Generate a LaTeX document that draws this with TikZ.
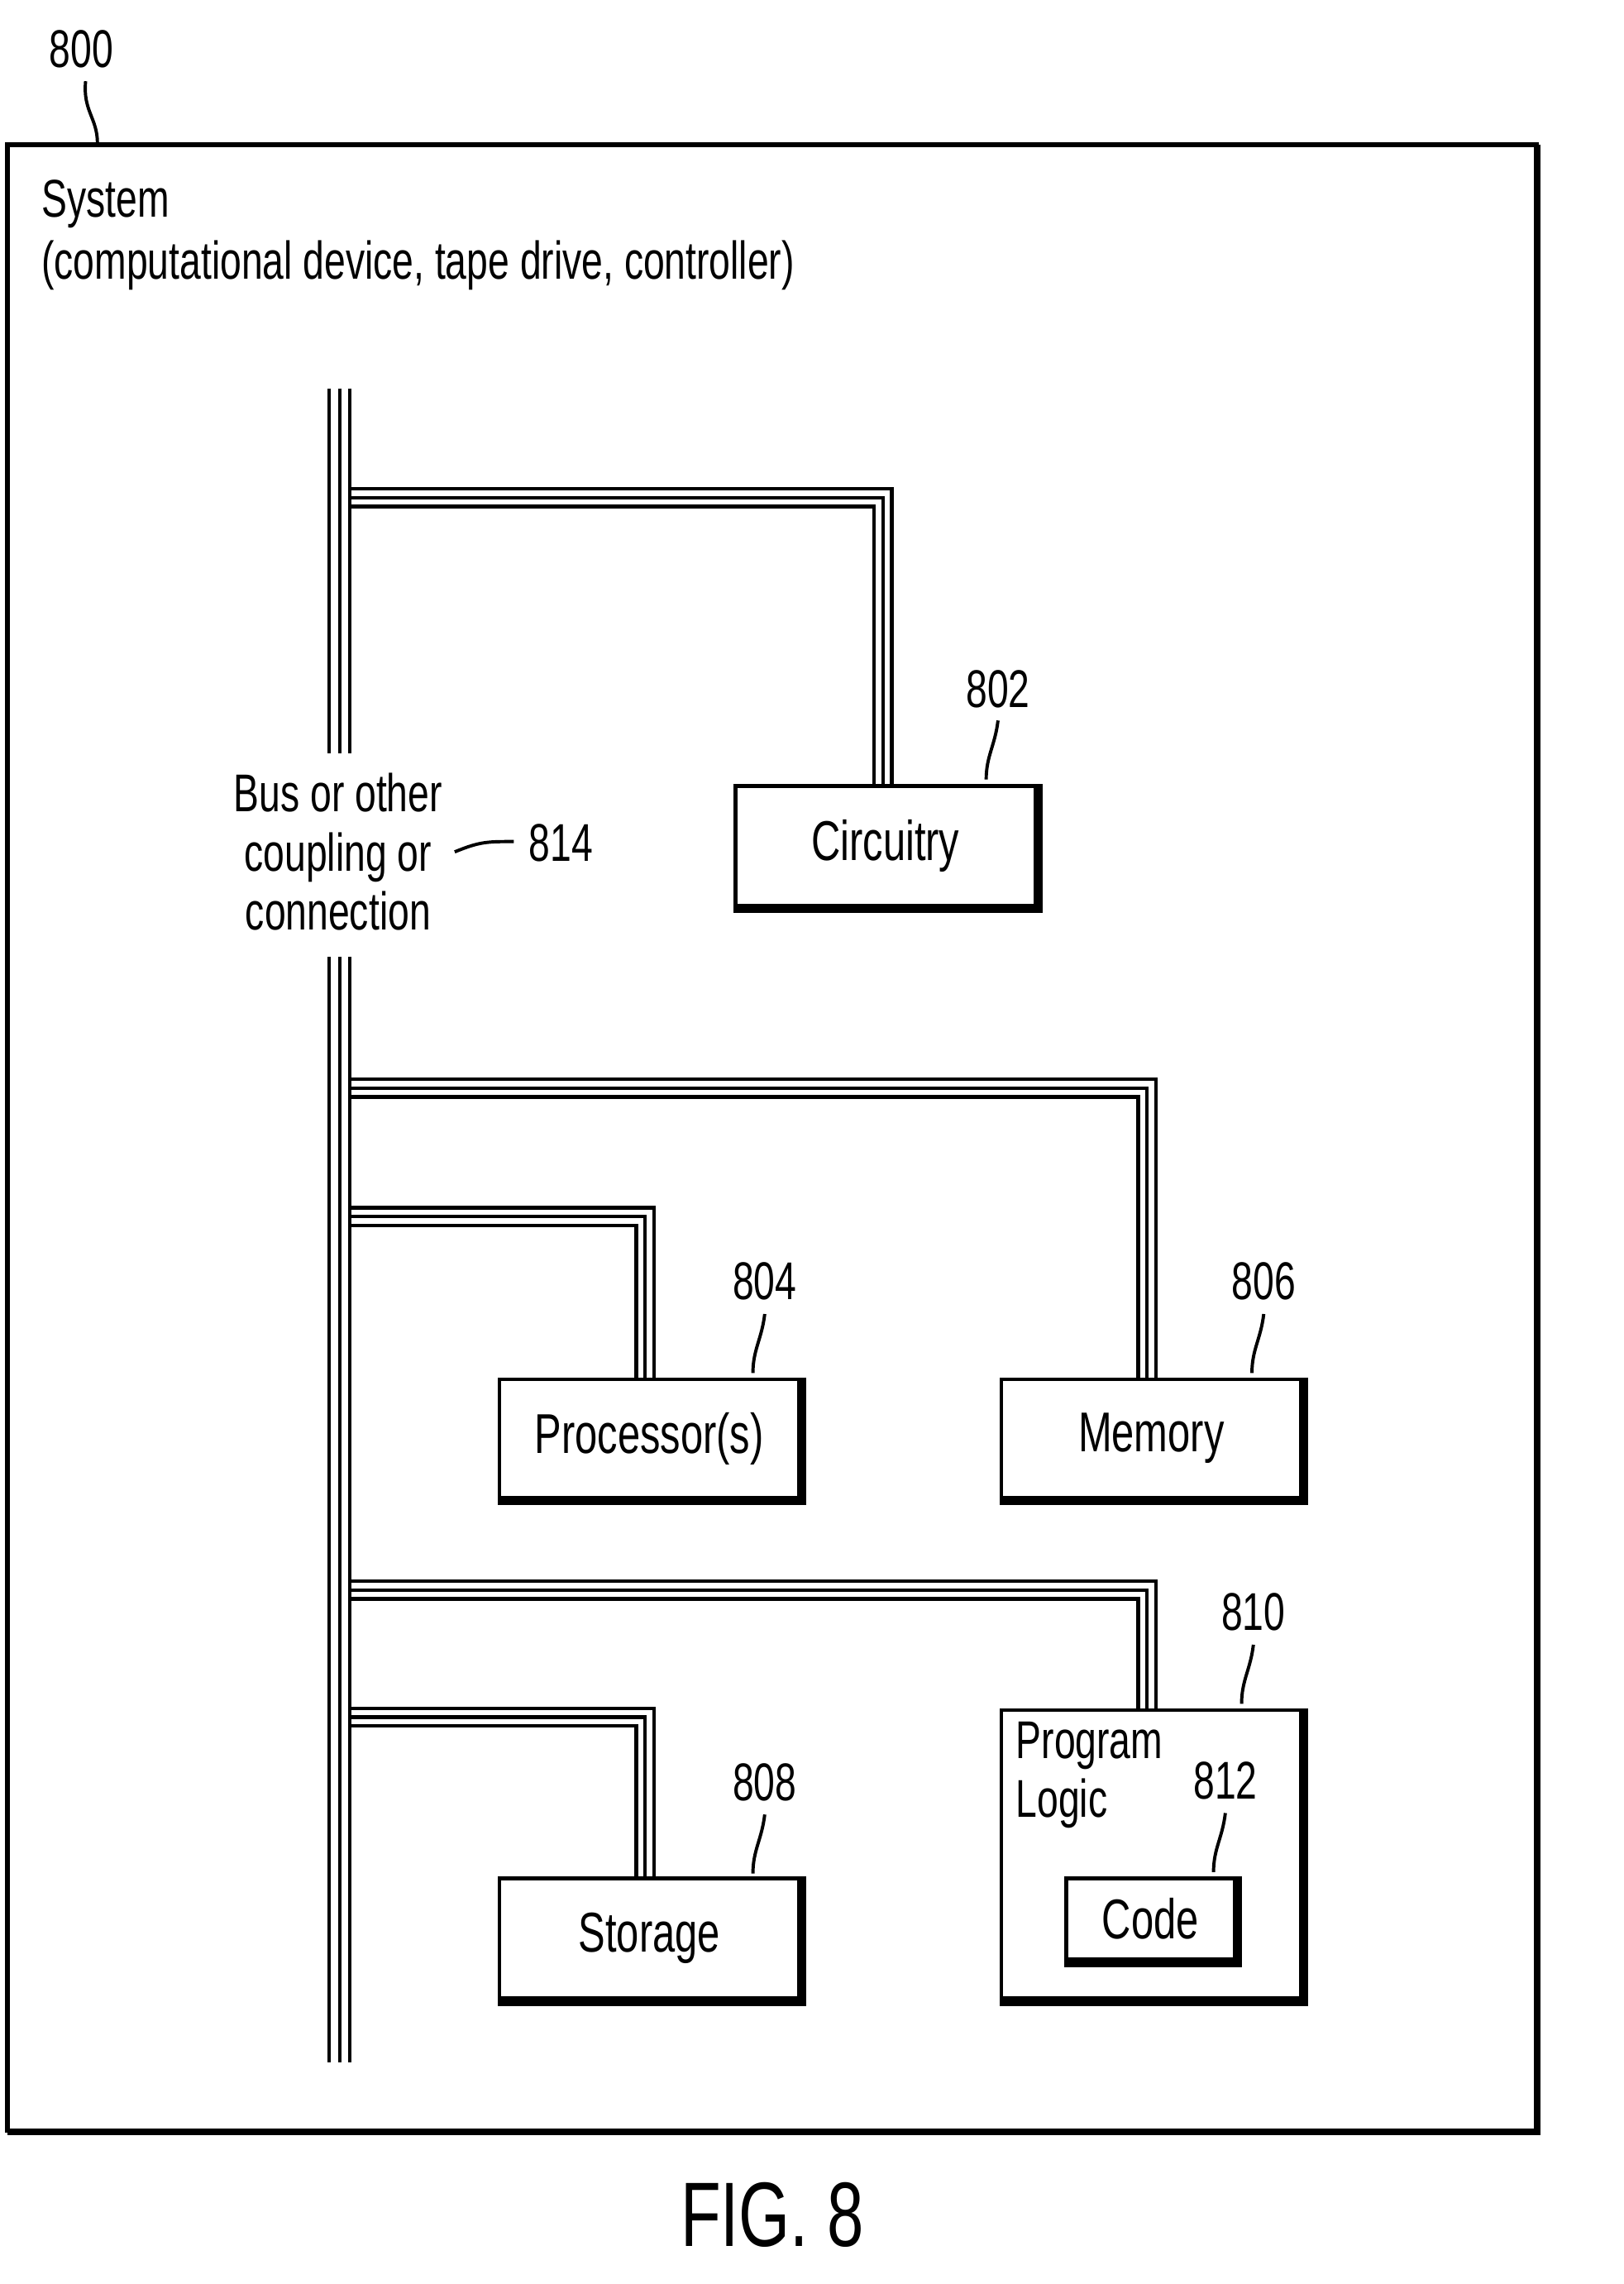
\documentclass[tikz,border=0pt]{standalone}
\usepackage{fontspec}
\setmainfont{Liberation Sans}[FakeStretch=0.72]
\begin{document}
\begin{tikzpicture}[x=1pt,y=-1pt,
  box/.style={draw,line width=2.6pt,inner sep=0pt,anchor=north west,font=\fontsize{38}{40}\selectfont},
  wire/.style={line width=2.4pt},
  lead/.style={line width=2.2pt},
  lbl/.style={font=\fontsize{36}{40}\selectfont,inner sep=0pt}]
\useasboundingbox (0,0) rectangle (1099.5,1547);
% frame
\draw[line width=3pt] (5,98) rectangle (1041,1443);
\draw[line width=4.5pt] (1041,98) -- (1041,1444) -- (5,1444);
\node[lbl] (n800) at (55,33) {800};
\draw[lead] (58,55) .. controls (56,75) and (66,80) .. (66,97);
\node[lbl,anchor=west] (sys) at (28,138) {System};
\node[lbl,anchor=west] (sys2) at (28,180) {(computational device, tape drive, controller)};
% boxes
\newcommand\shbox[5]{\node[box,minimum width=#4pt,minimum height=#5pt] (#1) at #2 {#3};
  \draw[line width=5pt] ([xshift=1pt]#1.north east) -- ([xshift=1pt,yshift=-1.5pt]#1.south east) -- ([yshift=-1.5pt]#1.south west);}
\shbox{circ}{(497,531)}{Circuitry}{203}{81}
\shbox{proc}{(337,933)}{Processor(s)}{203}{80}
\shbox{mem}{(677,933)}{Memory}{203}{80}
\shbox{stor}{(337,1271)}{Storage}{203}{81}
\node[box,minimum width=203pt,minimum height=195pt] (prog) at (677,1157) {};
\draw[line width=5pt] ([xshift=1pt]prog.north east) -- ([xshift=1pt,yshift=-1.5pt]prog.south east) -- ([yshift=-1.5pt]prog.south west);
\node[lbl,anchor=north west,align=left] (plt) at (688,1166) {Program\\Logic};
\shbox{code}{(721,1271)}{Code}{114}{55}
% bus
\foreach \x in {223,230,237}{
  \draw[wire] (\x,263) -- (\x,510);
  \draw[wire] (\x,648) -- (\x,1397);}
\coordinate (bus) at (237,0);
% branches: (box, top y, right x)
\newcommand\branch[3]{\foreach \i in {0,1,2}{
  \draw[wire] (bus|-0,#2+6*\i) -| ([xshift={(#3-6*\i)*1pt}]#1.north west|-#1.north);}}
\newcommand\br[4]{\foreach \i in {0,1,2}{
  \draw[wire] (237,#2+6*\i) -| (#3-6*\i,#4);}}
\br{circ}{331}{604}{531}
\br{mem}{731}{783}{933}
\br{proc}{818}{443}{933}
\br{prog}{1071}{783}{1157}
\br{stor}{1157}{443}{1271}
% bus label
\node[lbl,align=center] (buslbl) at (229,577) {Bus or other\\coupling or\\connection};
\draw[lead] (308,577) .. controls (325,570) and (330,570) .. (348,570);
\node[lbl] (n814) at (380,571) {814};
% reference numbers
\node[lbl] (n802) at (676,467) {802};
\draw[lead] (676,488) .. controls (674,505) and (668,512) .. (668,528);
\node[lbl] (n804) at (518,868) {804};
\draw[lead] (518,890) .. controls (516,907) and (510,914) .. (510,930);
\node[lbl] (n806) at (856,868) {806};
\draw[lead] (856,890) .. controls (854,907) and (848,914) .. (848,930);
\node[lbl] (n808) at (518,1207) {808};
\draw[lead] (518,1229) .. controls (516,1246) and (510,1253) .. (510,1269);
\node[lbl] (n810) at (849,1092) {810};
\draw[lead] (849,1114) .. controls (847,1131) and (841,1138) .. (841,1154);
\node[lbl] (n812) at (830,1206) {812};
\draw[lead] (830,1228) .. controls (828,1245) and (822,1252) .. (822,1268);
\node[font=\fontsize{62}{64}\selectfont,inner sep=0pt] (fig) at (523,1500) {FIG. 8};
\end{tikzpicture}
\end{document}
